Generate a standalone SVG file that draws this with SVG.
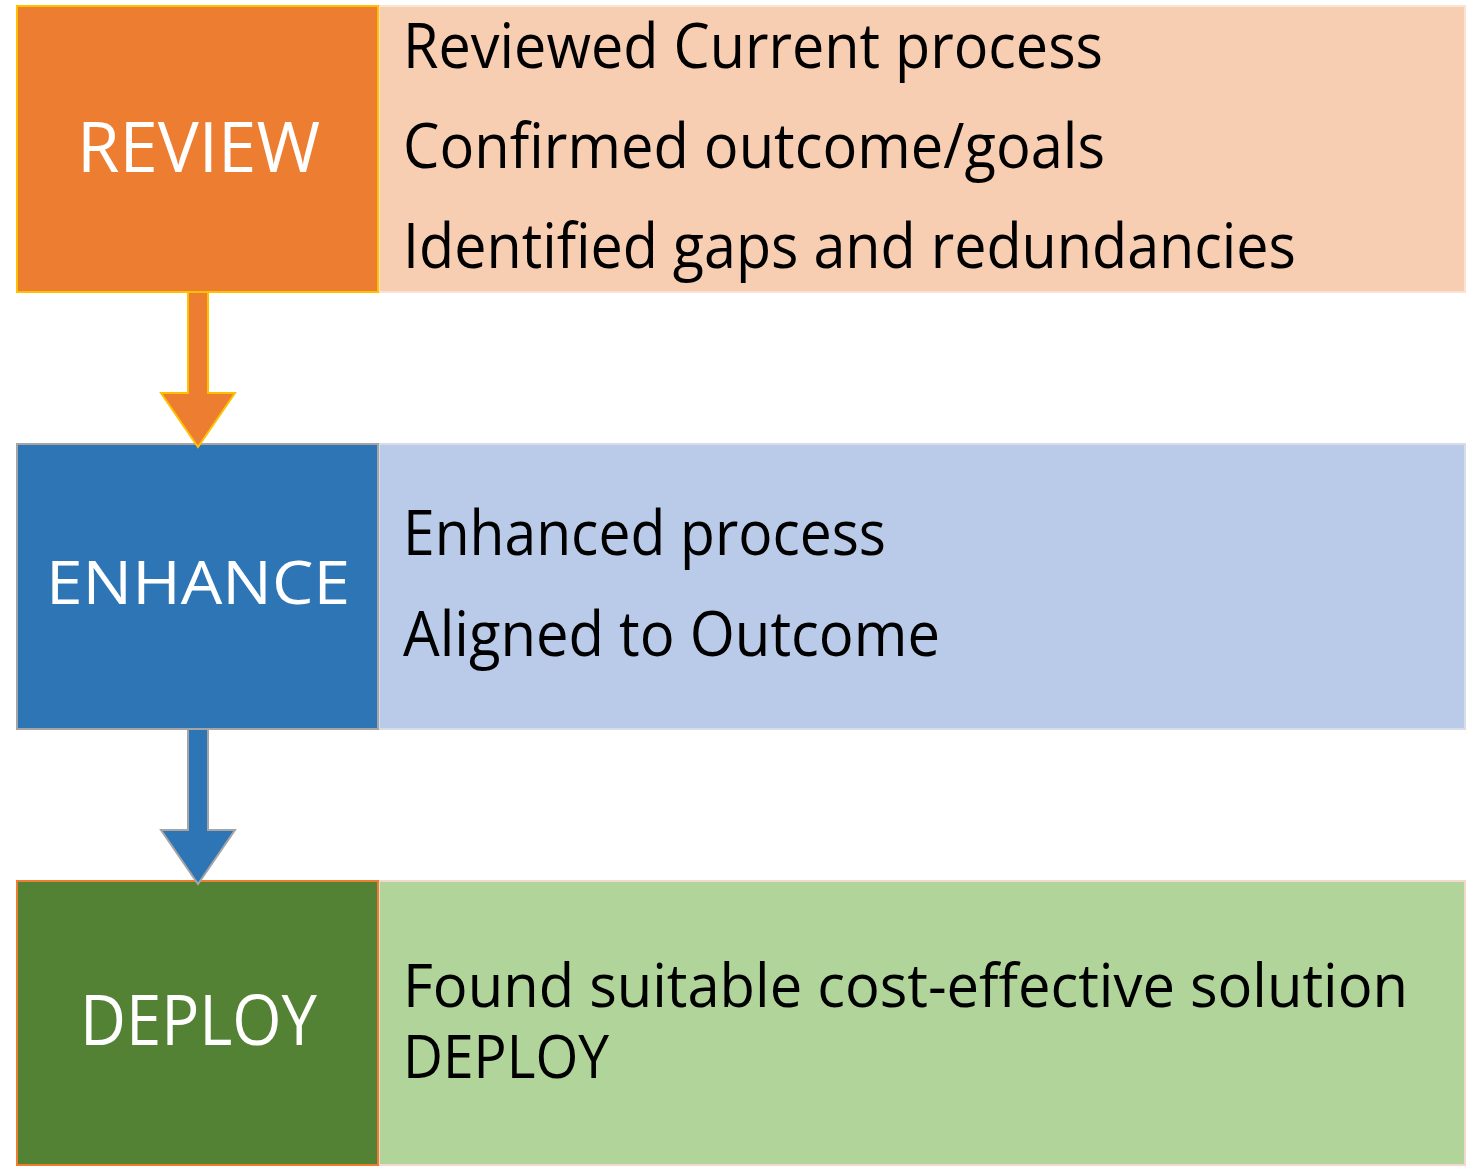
<svg xmlns="http://www.w3.org/2000/svg" width="1473" height="1167" viewBox="0 0 1473 1167">
<style>
.lbl{font-family:"Open Sans","Liberation Sans",sans-serif;fill:#FFFFFF;text-anchor:middle}
.txt{font-family:"Open Sans","Liberation Sans",sans-serif;fill:#000000;font-size:62px}
.tight{font-size:60px}
</style>
<rect width="1473" height="1167" fill="#FFFFFF"/>
<g id="review">
<rect x="379" y="6" width="1086" height="286" fill="#F8CEB3" stroke="#FBE3D3" stroke-width="2"/>
<rect x="17" y="6" width="361" height="286" fill="#ED7D31" stroke="#FFC000" stroke-width="2"/>
<text class="lbl" x="198.5" y="172" font-size="70" textLength="243" lengthAdjust="spacingAndGlyphs">REVIEW</text>
<text class="txt" x="403" y="68" textLength="700" lengthAdjust="spacingAndGlyphs">Reviewed Current process</text>
<text class="txt" x="403" y="168" textLength="702" lengthAdjust="spacingAndGlyphs">Confirmed outcome/goals</text>
<text class="txt" x="403" y="268" textLength="893" lengthAdjust="spacingAndGlyphs">Identified gaps and redundancies</text>
</g>
<g id="enhance">
<rect x="379" y="444" width="1086" height="285" fill="#B9CBE8" stroke="#D6DDE8" stroke-width="2"/>
<rect x="17" y="444" width="361" height="285" fill="#2E75B6" stroke="#A5A5A5" stroke-width="2"/>
<text class="lbl" x="198" y="604" font-size="60" textLength="304" lengthAdjust="spacingAndGlyphs">ENHANCE</text>
<text class="txt" x="403" y="555" textLength="483" lengthAdjust="spacingAndGlyphs">Enhanced process</text>
<text class="txt" x="403" y="656" textLength="537" lengthAdjust="spacingAndGlyphs">Aligned to Outcome</text>
</g>
<g id="deploy">
<rect x="379" y="881" width="1086" height="284" fill="#B0D49A" stroke="#F3D9CC" stroke-width="2"/>
<rect x="17" y="881" width="361" height="284" fill="#548235" stroke="#ED7D31" stroke-width="2"/>
<text class="lbl" x="198.5" y="1045" font-size="70" textLength="237" lengthAdjust="spacingAndGlyphs">DEPLOY</text>
<text class="txt tight" x="403" y="1007" textLength="1005" lengthAdjust="spacingAndGlyphs">Found suitable cost-effective solution</text>
<text class="txt tight" x="403" y="1078" textLength="206" lengthAdjust="spacingAndGlyphs">DEPLOY</text>
</g>
<g id="connectors">
<path d="M188,293 V393 H161 L198,447 L235,393 H208 V293" fill="#ED7D31" stroke="#FFC000" stroke-width="2" stroke-linejoin="miter"/>
<path d="M188,730 V830 H161 L198,884 L235,830 H208 V730" fill="#2E75B6" stroke="#A5A5A5" stroke-width="2" stroke-linejoin="miter"/>
</g>
</svg>
